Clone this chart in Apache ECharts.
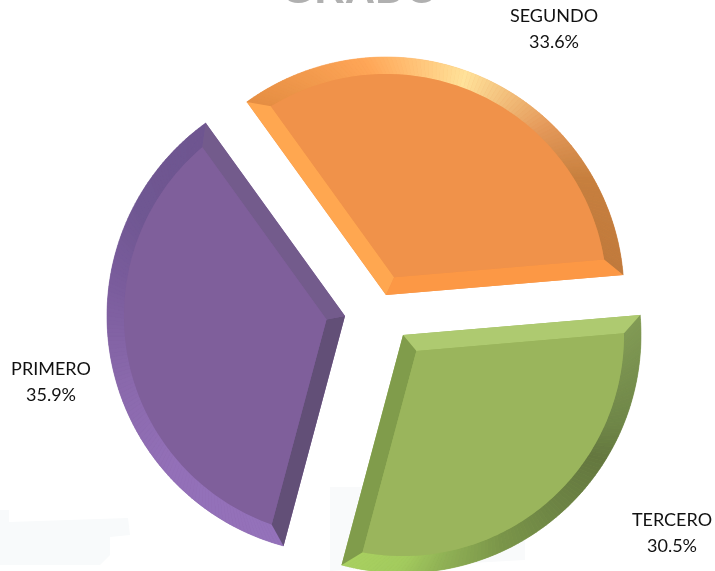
<!DOCTYPE html>
<html><head><meta charset="utf-8">
<style>html,body{margin:0;padding:0;background:#fff}#c{width:715px;height:571px}</style>
<script src="https://cdn.jsdelivr.net/npm/echarts@6/dist/echarts.min.js"></script>
</head><body><div id="c"></div>
<script>
var categories = ['SEGUNDO', 'TERCERO', 'PRIMERO'];
var values = [33.6, 30.5, 35.9];
var apexes = [[386, 295], [403, 335], [345, 316]];
var faceColors = ['#F0924A', '#9AB55C', '#7F5F9B'];
var startEdgeColors = ['#FFA750', '#AECA70', '#624F77'];
var endEdgeColors = ['#FC9845', '#809C4B', '#735B8C'];
var rimStops = [
  [[0,'#E58E43'],[0.25,'#FFA657'],[0.46,'#FFE29A'],[0.66,'#E4995A'],[0.8,'#C67F3E'],[1,'#C07A3D']],
  [[0,'#819A55'],[0.25,'#6E8547'],[0.33,'#64773F'],[0.5,'#6E8545'],[0.64,'#7A9549'],[0.78,'#8FB055'],[0.88,'#A3CB5E'],[1,'#A8D060']],
  [[0,'#9472BA'],[0.25,'#9370B8'],[0.45,'#8A69AC'],[0.65,'#7A5C9C'],[0.8,'#6F5792'],[1,'#6E5590']]
];
var startAngle = 125.8, R = 238, bevel = 17;

function hex(c){return [1,3,5].map(function(i){return parseInt(c.substr(i,2),16);});}
function mix(stops,t){
  for(var i=1;i<stops.length;i++){ if(t<=stops[i][0]){
    var a=stops[i-1],b=stops[i],k=(t-a[0])/(b[0]-a[0]),x=hex(a[1]),y=hex(b[1]);
    return 'rgb('+x.map(function(v,j){return Math.round(v+(y[j]-v)*k);}).join(',')+')';
  }}
  return stops[stops.length-1][1];
}
function pt(A,r,deg){var d=deg*Math.PI/180;return [A[0]+r*Math.cos(d),A[1]-r*Math.sin(d)];}
var total = values.reduce(function(a,b){return a+b;},0);
function sliceStart(idx){var a=startAngle;for(var i=0;i<idx;i++)a-=values[i]/total*360;return a;}

var series = categories.map(function(name,i){
  return {
    type:'pie', center:apexes[i], radius:[0,R], startAngle:startAngle, clockwise:true,
    silent:true, animation:false, z:1, minShowLabelAngle:0,
    labelLine:{show:false},
    label:{show:false},
    data:categories.map(function(n,j){
      return {name:n,value:values[j],itemStyle:{color:j===i?faceColors[i]:'transparent'}};
    })
  };
});

series.push({
  type:'custom', coordinateSystem:'none', silent:true, animation:false, z:2,
  data:values.map(function(v,i){return [i,v];}),
  renderItem:function(params,api){
    var i=api.value(0), A=apexes[i], a1=sliceStart(i), span=api.value(1)/total*360, a2=a1-span;
    var r2=R-bevel, delta=Math.asin(bevel/r2)*180/Math.PI, half=span/2*Math.PI/180;
    var mid=a1-span/2, inA=pt(A,bevel/Math.sin(half),mid);
    var Q1=pt(A,r2,a1-delta), Q2=pt(A,r2,a2+delta), P1=pt(A,R,a1), P2=pt(A,R,a2);
    var kids=[], N=Math.round(span), face=[inA];
    for(var k=0;k<N;k++){
      var t0=k/N,t1=(k+1)/N,
          o0=a1-span*t0,o1=a1-span*t1,
          n0=a1-delta-(span-2*delta)*t0,n1=a1-delta-(span-2*delta)*t1,
          col=mix(rimStops[i],(t0+t1)/2);
      kids.push({type:'polygon',shape:{points:[pt(A,R,o0),pt(A,R,o1),pt(A,r2,n1),pt(A,r2,n0)]},
        style:{fill:col,stroke:col,lineWidth:0.6}});
    }
    for(k=0;k<=N;k++) face.push(pt(A,r2,a1-delta-(span-2*delta)*k/N));
    kids.push({type:'polygon',shape:{points:[A,P1,Q1,inA]},style:{fill:startEdgeColors[i]}});
    kids.push({type:'polygon',shape:{points:[A,P2,Q2,inA]},style:{fill:endEdgeColors[i]}});
    kids.push({type:'polygon',shape:{points:face},style:{fill:faceColors[i]}});
    return {type:'group',children:kids};
  }
});

var chart = echarts.init(document.getElementById('c'),null,{renderer:'canvas'});
var labelFont={fontFamily:'Lato,"Noto Sans",sans-serif',fontSize:18,fill:'#111',textAlign:'center',lineHeight:26};
function pct(i){return values[i].toFixed(1)+'%';}
chart.setOption({
  backgroundColor:'#fff',
  series:series,
  graphic:[
    {type:'polygon',silent:true,z:-1,shape:{points:[[0,510],[9,510],[9,522],[128,518],[130,535],[110,537],[110,555],[100,565],[0,565]]},
     style:{fill:'#F8FAFB'}},
    {type:'polygon',silent:true,z:-1,shape:{points:[[330,487],[365,487],[365,500],[525,533],[525,560],[330,571]]},
     style:{fill:'#F9FAFB'}},
    {type:'text',silent:true,x:360,y:-30,
     style:{text:'GRADO',fontFamily:'Liberation Sans',fontSize:42,fontWeight:'bold',fill:'#b0b0b0',textAlign:'center',
            shadowBlur:5,shadowColor:'#aaa'}},
    {type:'text',silent:true,x:554,y:3,style:Object.assign({text:categories[0]+'\n'+pct(0)},labelFont)},
    {type:'text',silent:true,x:672,y:507,style:Object.assign({text:categories[1]+'\n'+pct(1)},labelFont)},
    {type:'text',silent:true,x:51,y:356,style:Object.assign({text:categories[2]+'\n'+pct(2)},labelFont)}
  ]
});
</script></body></html>
